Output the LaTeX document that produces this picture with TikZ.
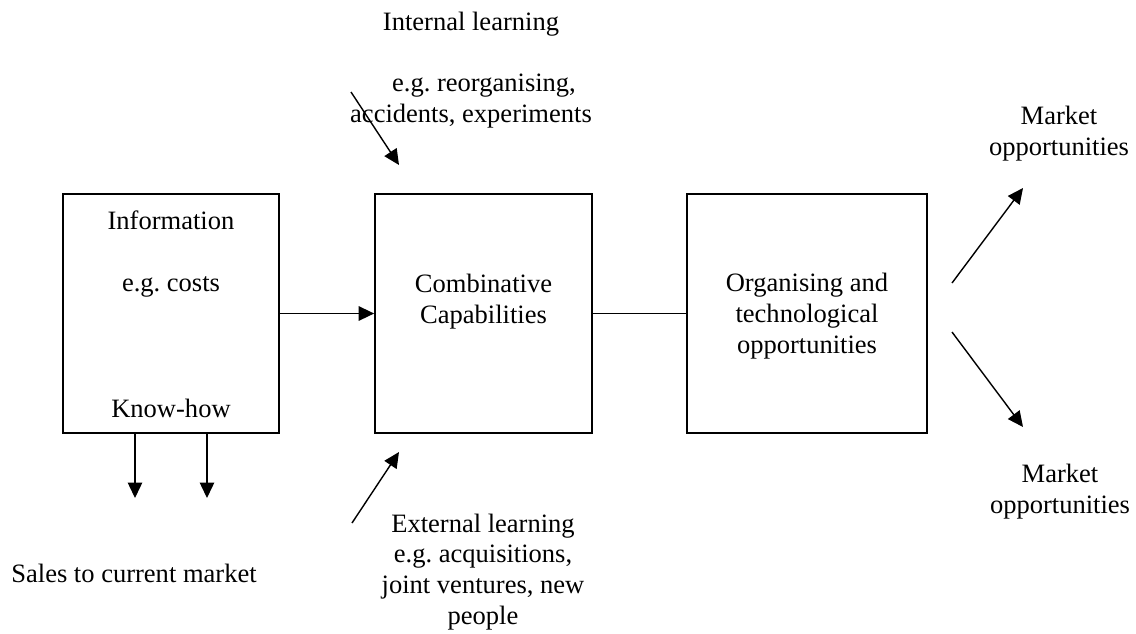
\documentclass[tikz,border=0pt]{standalone}
\usepackage{fontspec}
\setmainfont{Liberation Serif}
\usetikzlibrary{arrows.meta}
\frenchspacing

\tikzset{
	box/.style={draw, line width=1pt, minimum height=4.78cm, inner sep=0pt},
	txt/.style={font=\fontsize{15.1}{17.4}\selectfont, align=center, inner sep=0pt},
	arr/.style={-{Triangle[length=0.31cm,width=0.29cm]}, line width=0.8pt},
}

\begin{document}
\begin{tikzpicture}[x=0.02cm,y=-0.02cm]

	\useasboundingbox (0,0) rectangle (1136,633);

	% ---- coordinates

	\coordinate (in1) at (351,92);
	\coordinate (in2) at (399,165);
	\coordinate (ex1) at (352,523);
	\coordinate (ex2) at (399,452);
	\coordinate (mk0) at (952,283);
	\coordinate (mk1) at (1023,188);
	\coordinate (mk2) at (952,332);
	\coordinate (mk3) at (1023,427);
	\coordinate (s1) at (135,498);
	\coordinate (s2) at (207,498);

	% ---- boxes

	\node[box, minimum width=4.32cm] (info) at (171,313.5) {};
	\node[box, minimum width=4.34cm] (comb) at (483.5,313.5) {};
	\node[box, minimum width=4.80cm] (org) at (807,313.5) {};

	% ---- texts (base = last line)

	\node[txt, font=\fontsize{15.1}{17.8}\selectfont, anchor=base] (infotxt) at (171,417) {Information\\\mbox{}\\e.g. costs\\\mbox{}\\\mbox{}\\\mbox{}\\Know-how};
	\node[txt, anchor=base] (combtxt) at (483.5,323) {Combinative\\Capabilities};
	\node[txt, anchor=base] (orgtxt) at (807,353) {Organising and\\technological\\opportunities};
	\node[txt, anchor=base] (intl) at (471,122) {Internal learning\\\mbox{}\\\hspace*{0.52cm}e.g. reorganising,\\accidents, experiments};
	\node[txt, anchor=base] (extl) at (483,624) {External learning\\e.g. acquisitions,\\joint ventures, new\\people};
	\node[txt, anchor=base] (mktop) at (1059,155) {Market\\opportunities};
	\node[txt, anchor=base] (mkbot) at (1060,513) {Market\\opportunities};
	\node[txt, anchor=base] (sales) at (134,582) {Sales to current market};

	% ---- connectors

	\draw[arr] (info) -- (comb);
	\draw[line width=0.8pt] (comb) -- (org);
	\draw[arr] (in1) -- (in2);
	\draw[arr] (ex1) -- (ex2);
	\draw[arr] (mk0) -- (mk1);
	\draw[arr] (mk2) -- (mk3);
	\foreach \i in {1,2} { \draw[arr] (s\i |- info.south) -- (s\i); }

\end{tikzpicture}
\end{document}
